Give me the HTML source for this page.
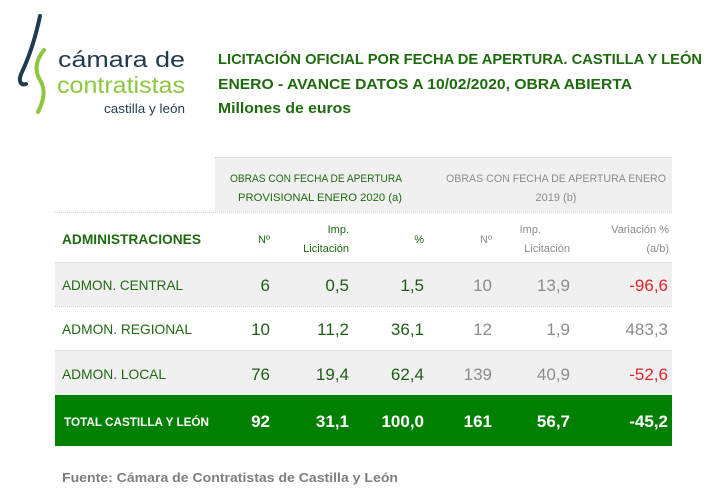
<!DOCTYPE html>
<html><head><meta charset="utf-8"><style>
html,body{margin:0;padding:0;background:#fff}
svg{display:block}
text{font-family:"Liberation Sans",sans-serif}
</style></head><body>
<svg width="720" height="496" viewBox="0 0 720 496" xmlns="http://www.w3.org/2000/svg">
<!-- logo -->
<path d="M40,16 C36,35 30,55 22,72 C18,80 20,86 26,84" fill="none" stroke="#1f3b4d" stroke-width="4" stroke-linecap="round"/>
<path d="M44,50 C36,60 34,70 40,80 C46,90 44,100 38,112" fill="none" stroke="#8dc63f" stroke-width="4" stroke-linecap="round"/>
<text x="58" y="67" font-size="22" fill="#1f3b4d" textLength="127" lengthAdjust="spacingAndGlyphs">cámara de</text>
<text x="57" y="93" font-size="23" fill="#8dc63f" textLength="128" lengthAdjust="spacingAndGlyphs">contratistas</text>
<text x="104" y="113" font-size="13" fill="#1f3b4d" textLength="81" lengthAdjust="spacingAndGlyphs">castilla y león</text>
<!-- title -->
<g font-weight="bold" font-size="15" fill="#1e6b0f">
<text x="218" y="64" textLength="484" lengthAdjust="spacingAndGlyphs">LICITACIÓN OFICIAL POR FECHA DE APERTURA. CASTILLA Y LEÓN</text>
<text x="218" y="89" textLength="414" lengthAdjust="spacingAndGlyphs">ENERO - AVANCE DATOS A 10/02/2020, OBRA ABIERTA</text>
<text x="218" y="113" textLength="133" lengthAdjust="spacingAndGlyphs">Millones de euros</text>
</g>
<!-- backgrounds -->
<rect x="215" y="157" width="457" height="55" fill="#f0f0f0"/>
<rect x="55" y="262" width="617" height="44" fill="#f0f0f0"/>
<rect x="55" y="350" width="617" height="45" fill="#f0f0f0"/>
<rect x="55" y="395" width="617" height="51" fill="#008000"/>
<g stroke="#cfcfcf" stroke-dasharray="1,1" stroke-width="1">
<line x1="215" y1="157.5" x2="672" y2="157.5"/>
<line x1="55" y1="212.5" x2="672" y2="212.5"/>
<line x1="55" y1="262.5" x2="672" y2="262.5"/>
<line x1="55" y1="306.5" x2="672" y2="306.5"/>
<line x1="55" y1="350.5" x2="672" y2="350.5"/>
</g>
<!-- group headers -->
<g font-size="11">
<text x="230" y="182" fill="#1e6b0f" textLength="172" lengthAdjust="spacingAndGlyphs">OBRAS CON FECHA DE APERTURA</text>
<text x="238" y="201" fill="#1e6b0f" textLength="164" lengthAdjust="spacingAndGlyphs">PROVISIONAL ENERO 2020 (a)</text>
<text x="446" y="182" fill="#8c8c8c" textLength="220" lengthAdjust="spacingAndGlyphs">OBRAS CON FECHA DE APERTURA ENERO</text>
<text x="556" y="201" fill="#8c8c8c" text-anchor="middle">2019 (b)</text>
</g>
<!-- column headers -->
<text x="62" y="244" font-size="14" font-weight="bold" fill="#1e6b0f" textLength="139" lengthAdjust="spacingAndGlyphs">ADMINISTRACIONES</text>
<g font-size="11" fill="#1e6b0f" text-anchor="end">
<text x="270" y="243">Nº</text>
<text x="349" y="233">Imp.</text>
<text x="349" y="252">Licitación</text>
<text x="424" y="243">%</text>
</g>
<g font-size="11" fill="#8c8c8c" text-anchor="end">
<text x="492" y="243">Nº</text>
<text x="541" y="233">Imp.</text>
<text x="570" y="252">Licitación</text>
<text x="669" y="233">Variación %</text>
<text x="669" y="252">(a/b)</text>
</g>
<!-- rows -->
<g font-size="14" fill="#1e6b0f">
<text x="62" y="290" textLength="121" lengthAdjust="spacingAndGlyphs">ADMON. CENTRAL</text>
<text x="62" y="334" textLength="130" lengthAdjust="spacingAndGlyphs">ADMON. REGIONAL</text>
<text x="62" y="379" textLength="104" lengthAdjust="spacingAndGlyphs">ADMON. LOCAL</text>
</g>
<g font-size="17" text-anchor="end">
<g fill="#1e5e14">
<text x="270" y="291">6</text><text x="349" y="291">0,5</text><text x="424" y="291">1,5</text>
<text x="270" y="335">10</text><text x="349" y="335">11,2</text><text x="424" y="335">36,1</text>
<text x="270" y="380">76</text><text x="349" y="380">19,4</text><text x="424" y="380">62,4</text>
</g>
<g fill="#8c8c8c">
<text x="492" y="291">10</text><text x="570" y="291">13,9</text>
<text x="492" y="335">12</text><text x="570" y="335">1,9</text><text x="668" y="335">483,3</text>
<text x="492" y="380">139</text><text x="570" y="380">40,9</text>
</g>
<g fill="#e0262b">
<text x="668" y="291">-96,6</text><text x="668" y="380">-52,6</text>
</g>
</g>
<!-- total -->
<text x="64" y="426" font-size="12" font-weight="bold" fill="#fff" textLength="145" lengthAdjust="spacingAndGlyphs">TOTAL CASTILLA Y LEÓN</text>
<g font-size="17" font-weight="bold" fill="#fff" text-anchor="end">
<text x="270" y="427">92</text><text x="349" y="427">31,1</text><text x="424" y="427">100,0</text>
<text x="492" y="427">161</text><text x="570" y="427">56,7</text><text x="668" y="427">-45,2</text>
</g>
<text x="62" y="482" font-size="13" font-weight="bold" fill="#7f7f7f" textLength="336" lengthAdjust="spacingAndGlyphs">Fuente: Cámara de Contratistas de Castilla y León</text>
</svg>
</body></html>
